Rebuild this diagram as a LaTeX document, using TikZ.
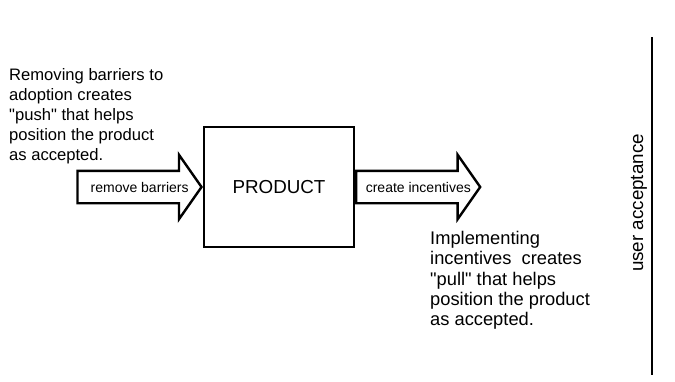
\documentclass[tikz,border=0pt]{standalone}
\usepackage{fontspec}
\setmainfont{Liberation Sans}[Ligatures=TeXOff]
\usetikzlibrary{positioning,shapes.arrows}
\definecolor{inkblack}{HTML}{000000}
\definecolor{paper}{HTML}{FFFFFF}
\tikzset{
  prodbox/.style={draw=inkblack, line width=2pt, fill=paper, minimum width=150pt,
                  minimum height=120pt, inner sep=0pt, font=\fontsize{18.8}{20}\selectfont},
  blockarrow/.style={single arrow, draw=inkblack, line width=2.4pt, fill=paper,
                     single arrow head extend=16pt, single arrow tip angle=110,
                     minimum height=124pt, text height=9pt, text depth=3pt,
                     inner ysep=9pt, inner xsep=0pt},
  arrowlbl/.style={inner sep=0pt, font=\fontsize{14}{16}\selectfont},
  notetext/.style={align=left, inner sep=0pt, anchor=north west},
  axisline/.style={draw=inkblack, line width=2.4pt}}
\begin{document}
\begin{tikzpicture}[x=1pt, y=-1pt]
    \useasboundingbox[fill=paper] (0,0) rectangle (675,381);
    % the product in the middle
    \node[prodbox] (prod) at (279,187) {PRODUCT};
    % push from the left, pull to the right
    \node[blockarrow, anchor=tip] (push) at (prod.west) {};
    \node[blockarrow, anchor=tail] (pull) at (prod.east) {};
    \path (push.tail) -- (push.tip) node[midway, arrowlbl] (pushlbl) {remove barriers};
    \path (pull.tail) -- (pull.tip) node[midway, arrowlbl] (pulllbl) {create incentives};
    \node[notetext, font=\fontsize{16.6}{20}\selectfont] (pushnote) at (9,68)
      {Removing barriers to\\adoption creates\\"push" that helps\\position the product\\as accepted.};
    \node[notetext, font=\fontsize{18.3}{20.3}\selectfont] (pullnote) at (430,231)
      {Implementing\\incentives\ \ creates\\"pull" that helps\\position the product\\as accepted.};
    % acceptance scale
    \coordinate (acctop) at (652,37);
    \coordinate (accbot) at (652,375);
    \draw[axisline] (acctop) -- (accbot);
    \node[rotate=90, font=\fontsize{18.8}{20}\selectfont] (acc) at (639,203) {user acceptance};
  \end{tikzpicture}
\end{document}
